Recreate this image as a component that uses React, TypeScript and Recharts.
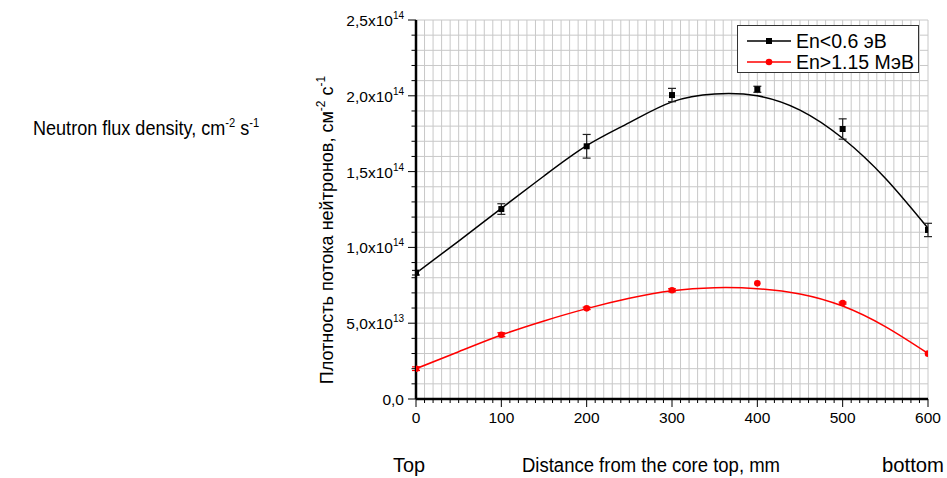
import React from "react";
import { ComposedChart, Line, Scatter, XAxis, YAxis, CartesianGrid, ErrorBar } from "recharts";

// Measured points (distance from core top, mm)
const positions = [0, 100, 200, 300, 400, 500, 600];
// En < 0.6 эВ (thermal)
const thermalFlux = [0.833e14, 1.253e14, 1.667e14, 2.005e14, 2.043e14, 1.781e14, 1.115e14];
const thermalErr = [0.015e14, 0.035e14, 0.078e14, 0.044e14, 0.02e14, 0.067e14, 0.044e14];
// En > 1.15 МэВ (fast)
const fastFlux = [0.2e14, 0.424e14, 0.598e14, 0.717e14, 0.763e14, 0.633e14, 0.299e14];
const fastErr = [0.012e14, 0.013e14, 0.008e14, 0.01e14, 0, 0.006e14, 0];

// Fitted curves
const fitPositions = [0, 50, 100, 150, 200, 250, 300, 350, 400, 450, 500, 550, 600];
const thermalFit = [0.83e14, 1.042e14, 1.258e14, 1.471e14, 1.671e14, 1.823e14, 1.96e14, 2.012e14, 2.0e14, 1.906e14, 1.72e14, 1.456e14, 1.126e14];
const fastFit = [0.2e14, 0.312e14, 0.422e14, 0.515e14, 0.596e14, 0.664e14, 0.714e14, 0.734e14, 0.728e14, 0.693e14, 0.613e14, 0.477e14, 0.3e14];

const xTickLabels = ["0", "100", "200", "300", "400", "500", "600"];
const yTickLabels = [
  { v: 0, m: "0,0", e: "" },
  { v: 5e13, m: "5,0x10", e: "13" },
  { v: 1e14, m: "1,0x10", e: "14" },
  { v: 1.5e14, m: "1,5x10", e: "14" },
  { v: 2e14, m: "2,0x10", e: "14" },
  { v: 2.5e14, m: "2,5x10", e: "14" },
];

const legendNames = ["En<0.6 эВ", "En>1.15 МэВ"];

const xGridTicks = Array.from({ length: 61 }, (_, i) => i * 10);
const yGridTicks = Array.from({ length: 26 }, (_, i) => i * 1e13);

const thermalData = positions.map((x, i) => ({ x, y: thermalFlux[i], err: thermalErr[i] }));
const fastData = positions.map((x, i) => ({ x, y: fastFlux[i], err: fastErr[i] }));
const thermalFitData = fitPositions.map((x, i) => ({ x, y: thermalFit[i] }));
const fastFitData = fitPositions.map((x, i) => ({ x, y: fastFit[i] }));

const FONT = "'Liberation Sans', Arial, sans-serif";

const BottomTick = (props: any) => {
  const { x, y, payload } = props;
  const v = payload.value;
  const major = v % 100 === 0;
  const label = major ? xTickLabels[v / 100] : null;
  return (
    <g>
      <line x1={x} x2={x} y1={y} y2={y + (major ? 8 : 4)} stroke="#000" strokeWidth={1} />
      {label != null && (
        <text x={x} y={y + 24} textAnchor="middle" fontSize={15.5} fontFamily={FONT} fill="#000">
          {label}
        </text>
      )}
    </g>
  );
};

const TopTick = (props: any) => {
  const { x, y, payload } = props;
  const major = payload.value % 100 === 0;
  return <line x1={x} x2={x} y1={y} y2={y + (major ? 6 : 3)} stroke="#000" strokeWidth={1} />;
};

const LeftTick = (props: any) => {
  const { x, y, payload } = props;
  const v = payload.value;
  const lab = yTickLabels.find((t) => t.v === v);
  return (
    <g>
      <line x1={x} x2={x - (lab ? 8 : 4.5)} y1={y} y2={y} stroke="#000" strokeWidth={1} />
      {lab && (
        <text x={x - 12} y={y + 6} textAnchor="end" fontSize={15.5} fontFamily={FONT} fill="#000">
          {lab.m}
          {lab.e && (
            <tspan fontSize={10} dy={-7}>
              {lab.e}
            </tspan>
          )}
        </text>
      )}
    </g>
  );
};

const RightTick = (props: any) => {
  const { x, y, payload } = props;
  const major = payload.value % 5e13 === 0;
  return <line x1={x} x2={x - (major ? 6 : 4)} y1={y} y2={y} stroke="#000" strokeWidth={1} />;
};

const SquareDot = (p: any) => <rect x={p.cx - 3} y={p.cy - 3} width={6} height={6} fill="#000" />;
const RoundDot = (p: any) => <circle cx={p.cx} cy={p.cy} r={3.3} fill="#ff0000" />;

export default function App() {
  return (
    <div style={{ position: "absolute", left: 0, top: 0, width: 947, height: 478, background: "#fff" }}>
      <ComposedChart width={947} height={478} margin={{ top: 20, right: 19, bottom: 0, left: 0 }}>
        <CartesianGrid stroke="#c8c8c8" strokeWidth={1} />
        <XAxis
          dataKey="x"
          type="number"
          domain={[0, 600]}
          ticks={xGridTicks}
          interval={0}
          height={79}
          tickSize={0}
          tickMargin={0}
          tickLine={false}
          tick={<BottomTick />}
          axisLine={{ stroke: "#000", strokeWidth: 2.5 }}
          allowDataOverflow
        />
        <XAxis
          xAxisId="top"
          orientation="top"
          type="number"
          domain={[0, 600]}
          ticks={xGridTicks}
          interval={0}
          height={0}
          tickSize={0}
          tickMargin={0}
          tickLine={false}
          tick={<TopTick />}
          axisLine={{ stroke: "#000", strokeWidth: 2 }}
          allowDataOverflow
        />
        <YAxis
          dataKey="y"
          type="number"
          domain={[0, 2.5e14]}
          ticks={yGridTicks}
          interval={0}
          width={416}
          tickSize={0}
          tickMargin={0}
          tickLine={false}
          tick={<LeftTick />}
          axisLine={{ stroke: "#000", strokeWidth: 2.5 }}
          allowDataOverflow
        />
        <YAxis
          yAxisId="right"
          orientation="right"
          type="number"
          domain={[0, 2.5e14]}
          ticks={yGridTicks}
          interval={0}
          width={0}
          tickSize={0}
          tickMargin={0}
          tickLine={false}
          tick={<RightTick />}
          axisLine={{ stroke: "#000", strokeWidth: 2 }}
          allowDataOverflow
        />
        <Line data={thermalFitData} dataKey="y" type="natural" stroke="#000" strokeWidth={1.5} dot={false} activeDot={false} isAnimationActive={false} />
        <Line data={fastFitData} dataKey="y" type="natural" stroke="#ff0000" strokeWidth={1.5} dot={false} activeDot={false} isAnimationActive={false} />
        <Scatter data={thermalData} dataKey="y" shape={SquareDot} isAnimationActive={false}>
          <ErrorBar dataKey="err" direction="y" width={4} stroke="#222" strokeWidth={1.2} isAnimationActive={false} />
        </Scatter>
        <Scatter data={fastData} dataKey="y" shape={RoundDot} isAnimationActive={false}>
          <ErrorBar dataKey="err" direction="y" width={4} stroke="#ff0000" strokeWidth={1.2} isAnimationActive={false} />
        </Scatter>
      </ComposedChart>
      <svg width={947} height={478} style={{ position: "absolute", left: 0, top: 0, pointerEvents: "none" }}>
        <g>
          <rect x={737.5} y={25.5} width={181} height={47} fill="#fff" stroke="#333" strokeWidth={1} />
          <line x1={747} x2={791} y1={41} y2={41} stroke="#000" strokeWidth={1.5} />
          <rect x={766} y={38} width={6} height={6} fill="#000" />
          <text x={796} y={48} fontSize={19.5} fontFamily={FONT} fill="#000">{legendNames[0]}</text>
          <line x1={747} x2={791} y1={62} y2={62} stroke="#ff0000" strokeWidth={1.5} />
          <circle cx={769} cy={62} r={3.3} fill="#ff0000" />
          <text x={796} y={69} fontSize={19.5} fontFamily={FONT} fill="#000">{legendNames[1]}</text>
        </g>
        <text transform="translate(333, 230) rotate(-90)" textAnchor="middle" fontSize={18} fontFamily={FONT} fill="#000">
          Плотность потока нейтронов, см
          <tspan fontSize={12} dy={-8}>-2</tspan>
          <tspan dy={8}> с</tspan>
          <tspan fontSize={12} dy={-8}>-1</tspan>
        </text>
        <text transform="translate(33, 135) scale(0.86, 1)" fontSize={21} fontFamily={FONT} fill="#000">
          Neutron flux density, cm
          <tspan fontSize={13} dy={-8}>-2</tspan>
          <tspan dy={8}> s</tspan>
          <tspan fontSize={13} dy={-8}>-1</tspan>
        </text>
        <text x={393} y={472} fontSize={20} fontFamily={FONT} fill="#000" textLength={32} lengthAdjust="spacingAndGlyphs">Top</text>
        <text x={522} y={472} fontSize={20} fontFamily={FONT} fill="#000" textLength={258} lengthAdjust="spacingAndGlyphs">Distance from the core top, mm</text>
        <text x={882} y={472} fontSize={20} fontFamily={FONT} fill="#000" textLength={62} lengthAdjust="spacingAndGlyphs">bottom</text>
      </svg>
    </div>
  );
}
